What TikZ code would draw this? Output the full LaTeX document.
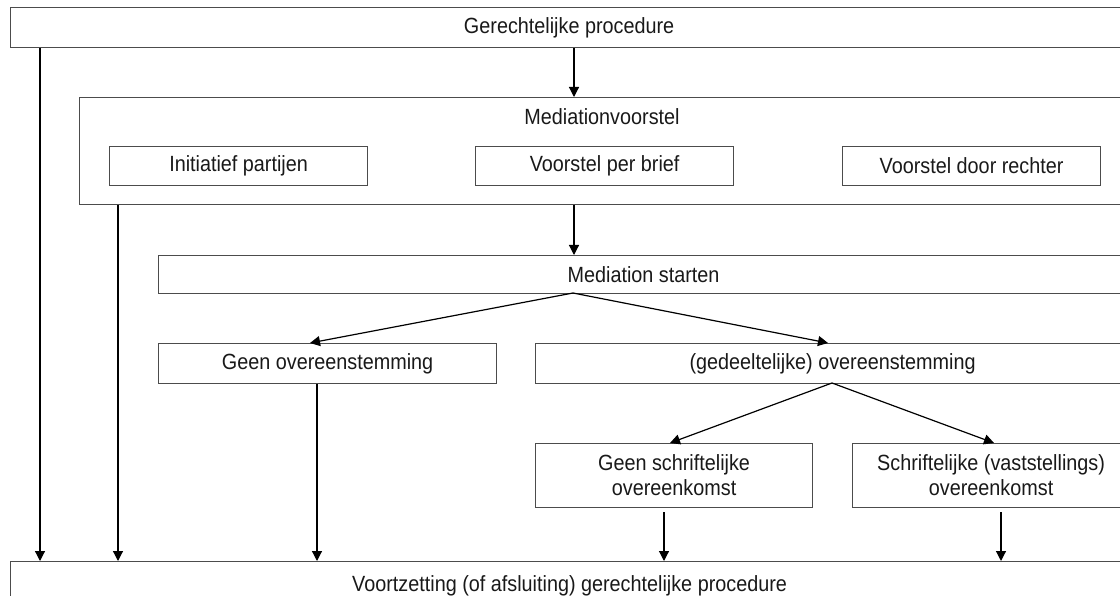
\documentclass[tikz,border=0pt]{standalone}
\usepackage{fontspec}
\setmainfont[FakeStretch=0.9]{Liberation Sans}
\usetikzlibrary{arrows.meta}
\begin{document}
\begin{tikzpicture}[x=1pt,y=-1pt,
  box/.style={draw=black!70,line width=1.2pt,inner sep=0pt,anchor=north west,align=center,
    font=\fontsize{22}{25}\selectfont,text=black!90},
  lbl/.style={inner sep=0pt,font=\fontsize{22}{25}\selectfont,text=black!90},
  arr/.style={draw=black,line width=1.2pt,-{Triangle[length=10pt,width=10pt]}}]
\useasboundingbox (0,0) rectangle (1120,596);
\clip (0,0) rectangle (1120,596);
% boxes
\node[box,minimum width=1117pt,minimum height=40pt] (gp) at (10,7) {Gerechtelijke procedure};
\node[box,minimum width=1048pt,minimum height=107pt] (mv) at (79,97) {};
\node[lbl] (mvl) at (602,117) {Mediationvoorstel};
\node[box,minimum width=258pt,minimum height=39pt] (ip) at (109,146) {Initiatief partijen};
\node[box,minimum width=258pt,minimum height=39pt] (vb) at (475,146) {Voorstel per brief};
\node[box,minimum width=258pt,minimum height=39pt] (vr) at (842,146) {Voorstel door rechter};
\node[box,minimum width=970pt,minimum height=38pt] (ms) at (158,255) {Mediation starten};
\node[box,minimum width=338pt,minimum height=40pt] (go) at (158,343) {Geen overeenstemming};
\node[box,minimum width=594pt,minimum height=40pt] (do) at (535,343) {(gedeeltelijke) overeenstemming};
\node[box,minimum width=277pt,minimum height=64pt] (gs) at (535,443) {Geen schriftelijke\\overeenkomst};
\node[box,minimum width=277pt,minimum height=64pt] (so) at (852,443) {Schriftelijke (vaststellings)\\overeenkomst};
\node[box,minimum width=1118pt,minimum height=60pt] (vz) at (10,561) {\raisebox{17pt}{Voortzetting (of afsluiting) gerechtelijke procedure}};
% connector end points
\coordinate (msout) at (573,293);
\coordinate (goin) at (310,343);
\coordinate (doin) at (828,343);
\coordinate (doout) at (832,383);
\coordinate (gsin) at (670,443);
\coordinate (soin) at (994,443);
\coordinate (gsout) at (664,512);
\coordinate (soout) at (1001,512);
% connectors
\draw[arr] (gp.south -| 574,0) -- (mv.north -| 574,0);
\draw[arr] (mv.south -| 574,0) -- (ms.north -| 574,0);
\draw[arr] (gp.south -| 40,0) -- (vz.north -| 40,0);
\draw[arr] (mv.south -| 118,0) -- (vz.north -| 118,0);
\draw[arr] (go.south -| 317,0) -- (vz.north -| 317,0);
\draw[arr] (msout) -- (goin);
\draw[arr] (msout) -- (doin);
\draw[arr] (doout) -- (gsin);
\draw[arr] (doout) -- (soin);
\draw[arr] (gsout) -- (vz.north -| gsout);
\draw[arr] (soout) -- (vz.north -| soout);
\end{tikzpicture}
\end{document}
